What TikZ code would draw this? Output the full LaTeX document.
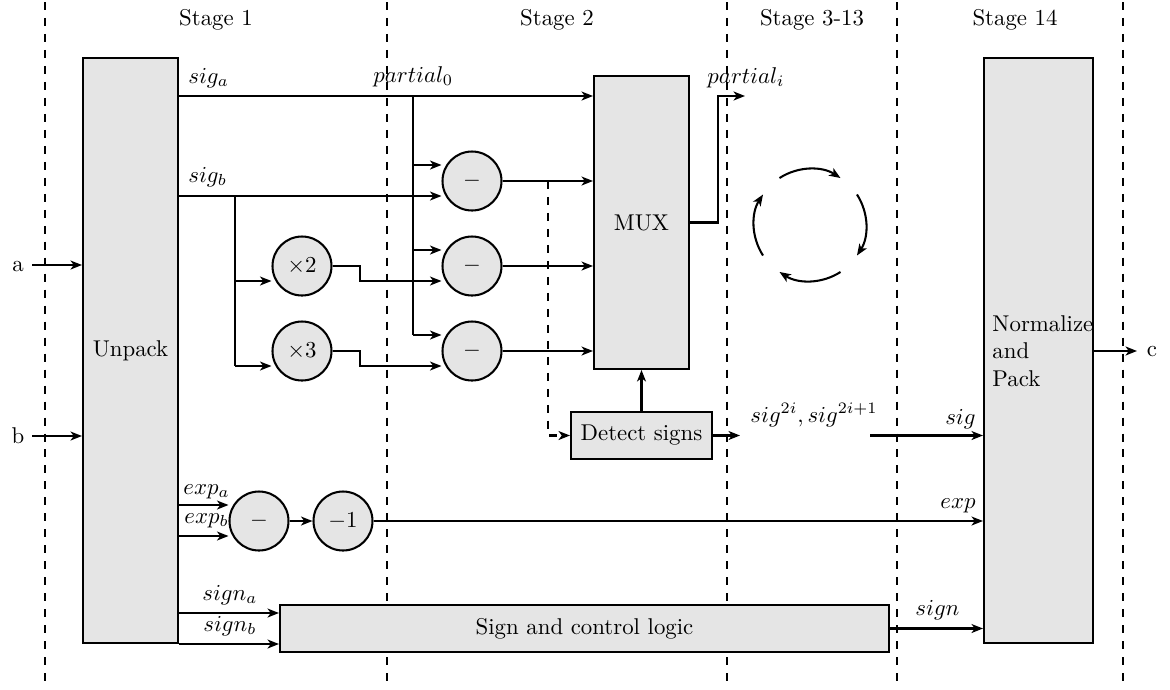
\documentclass[tikz,border=0pt]{standalone}
\usetikzlibrary{arrows.meta,calc}
\newlength\pu
\setlength\pu{0.438pt}
\begin{document}
\begin{tikzpicture}[x=\pu, y=-\pu,
  box/.style={draw, line width=0.9pt, fill=gray!20, rectangle, inner sep=0pt},
  op/.style={draw, line width=0.9pt, fill=gray!20, circle, minimum size=59\pu, inner sep=0pt},
  wire/.style={line width=0.9pt},
  arr/.style={line width=0.9pt, -{Stealth[length=5pt, width=3.9pt, inset=1.4pt]}},
  stagesep/.style={line width=0.9pt, dash pattern=on 3.5pt off 3.5pt},
  dasharr/.style={arr, dash pattern=on 3.5pt off 3.5pt},
  lbl/.style={inner sep=0pt}]
\useasboundingbox (0,0) rectangle (1170,689);

% stage separators
\foreach \xx/\nm in {45/s0,387/s1,727/s2,897/s3,1123/s4}{
  \coordinate (\nm t) at (\xx,2);
  \coordinate (\nm b) at (\xx,688);
  \draw[stagesep] (\nm t) -- (\nm b);
}
\node[lbl, anchor=base] (st1) at (216,25) {Stage 1};
\node[lbl, anchor=base] (st2) at (557,25) {Stage 2};
\node[lbl, anchor=base] (st3) at (812,25) {Stage 3-13};
\node[lbl, anchor=base] (st4) at (1015,25) {Stage 14};

% blocks
\node[box, minimum width=95\pu, minimum height=585\pu] (unpack) at (130.5,350.5) {Unpack};
\node[box, minimum width=109\pu, minimum height=585\pu] (norm) at (1038.5,350.5) {};
\node[align=left, anchor=west, inner sep=0pt] (normtxt) at (992,351) {Normalize\\and\\Pack};
\node[box, minimum width=95\pu, minimum height=293\pu] (mux) at (641.5,222.5) {MUX};
\node[box, minimum width=141\pu, minimum height=47\pu] (detect) at (641.5,435.5) {Detect signs};
\node[box, minimum width=609\pu, minimum height=47\pu] (logic) at (584.5,628.5) {Sign and control logic};

% operators
\node[op] (m1) at (472,181) {$-$};
\node[op] (m2) at (472,266) {$-$};
\node[op] (m3) at (472,351) {$-$};
\node[op] (x2) at (302,266) {$\times 2$};
\node[op] (x3) at (302,351) {$\times 3$};
\node[op] (e1) at (259,521) {$-$};
\node[op] (e2) at (343,521) {$-1$};

% helper coordinates
\coordinate (ya) at (0,96);
\coordinate (yb) at (0,196);
\coordinate (yp1) at (0,165);
\coordinate (yp2) at (0,250);
\coordinate (yp3) at (0,335);
\coordinate (yx2) at (0,281);
\coordinate (yx3) at (0,366);
\coordinate (px) at (413,0);
\coordinate (bx) at (235,0);
\coordinate (sx) at (360,0);
\coordinate (dx) at (548,0);
\coordinate (ox) at (718,0);
\coordinate (pi) at (745,96);
\coordinate (dout) at (740,435.5);
\coordinate (sgs) at (870,435.5);
\coordinate (yea) at (0,505);
\coordinate (yeb) at (0,536);
\coordinate (ysa) at (0,613);
\coordinate (ysb) at (0,644);
\coordinate (ain) at (32,265);
\coordinate (bin) at (32,436);
\coordinate (cout) at (1137,351);

% inputs / output
\node[lbl, anchor=base] (alab) at (18,271) {a};
\node[lbl, anchor=base] (blab) at (18,443) {b};
\node[lbl, anchor=base] (clab) at (1152,356) {c};
\draw[arr] (ain) -- (unpack.west |- ain);
\draw[arr] (bin) -- (unpack.west |- bin);
\draw[arr] (norm.east |- cout) -- (cout);

% significand path
\draw[arr] (unpack.east |- ya) -- (mux.west |- ya);
\draw[wire] (px |- ya) -- (px |- yp3);
\draw[arr] (px |- yp1) -- (m1.west |- yp1);
\draw[arr] (px |- yp2) -- (m2.west |- yp2);
\draw[arr] (px |- yp3) -- (m3.west |- yp3);
\draw[arr] (unpack.east |- yb) -- (m1.west |- yb);
\draw[wire] (bx |- yb) -- (bx |- yx3);
\draw[arr] (bx |- yx2) -- (x2.west |- yx2);
\draw[arr] (bx |- yx3) -- (x3.west |- yx3);
\draw[arr] (x2.east) -- (sx |- x2.east) -- (sx |- yx2) -- (m2.west |- yx2);
\draw[arr] (x3.east) -- (sx |- x3.east) -- (sx |- yx3) -- (m3.west |- yx3);
\draw[arr] (m1.east) -- (mux.west |- m1.east);
\draw[arr] (m2.east) -- (mux.west |- m2.east);
\draw[arr] (m3.east) -- (mux.west |- m3.east);
\draw[dasharr] (dx |- m1.east) -- (dx |- detect.west) -- (detect.west);
\draw[arr] (detect.north) -- (mux.south);
\draw[arr] (detect.east) -- (dout);
\draw[arr] (mux.east) -- (ox |- mux.east) -- (ox |- ya) -- (pi);
\draw[arr] (sgs) -- (norm.west |- sgs);

% exponent path
\draw[arr] (unpack.east |- yea) -- (e1.west |- yea);
\draw[arr] (unpack.east |- yeb) -- (e1.west |- yeb);
\draw[arr] (e1) -- (e2);
\draw[arr] (e2) -- (norm.west |- e2.east);

% sign path
\draw[arr] (unpack.east |- ysa) -- (logic.west |- ysa);
\draw[arr] (unpack.east |- ysb) -- (logic.west |- ysb);
\draw[arr] (logic) -- (norm.west |- logic.east);

% iteration circle
\coordinate (cc) at (810,225);
\draw[arr] ([shift={(-123:56)}]cc) arc[start angle=-123, end angle=-57, radius=56];
\draw[arr] ([shift={(-33:56)}]cc) arc[start angle=-33, end angle=33, radius=56];
\draw[arr] ([shift={(57:56)}]cc) arc[start angle=57, end angle=123, radius=56];
\draw[arr] ([shift={(147:56)}]cc) arc[start angle=147, end angle=213, radius=56];

% labels
\node[lbl, anchor=base west] (lsa) at (188,83) {$sig_a$};
\node[lbl, anchor=base west] (lsb) at (188,182) {$sig_b$};
\node[lbl, anchor=base west] (lp0) at (373,82) {$partial_0$};
\node[lbl, anchor=base west] (lpi) at (707,83) {$partial_i$};
\node[lbl, anchor=base west] (lsig2) at (750,422) {$sig^{2i}, sig^{2i+1}$};
\node[lbl, anchor=base east] (lsig) at (976,424) {$sig$};
\node[lbl, anchor=base east] (lexp) at (976,508) {$exp$};
\node[lbl, anchor=base west] (lsign) at (915,615) {$sign$};
\node[lbl, anchor=base west] (lea) at (183,494) {$exp_a$};
\node[lbl, anchor=base west] (leb) at (184,523) {$exp_b$};
\node[lbl, anchor=base west] (lsna) at (202,600) {$sign_a$};
\node[lbl, anchor=base west] (lsnb) at (203,631) {$sign_b$};
\end{tikzpicture}
\end{document}
